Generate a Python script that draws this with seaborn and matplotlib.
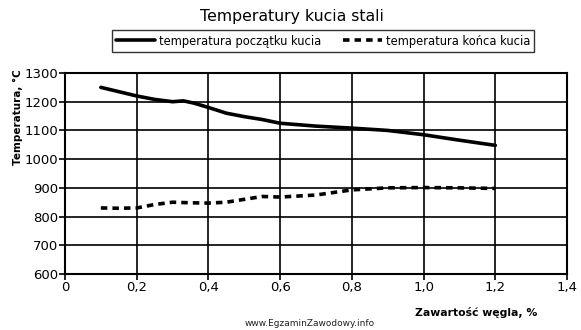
import matplotlib
matplotlib.use("Agg")
import matplotlib.pyplot as plt
import seaborn as sns
import pandas as pd

# Carbon content (%) and forging temperatures (°C)
carbon_start = [0.10, 0.15, 0.20, 0.25, 0.30, 0.33, 0.36, 0.40, 0.45, 0.50, 0.55, 0.60,
                0.70, 0.80, 0.90, 1.00, 1.10, 1.20]
temp_start = [1250, 1235, 1220, 1208, 1200, 1203, 1195, 1180, 1160, 1148, 1138, 1125,
              1115, 1108, 1100, 1085, 1066, 1048]

carbon_end = [0.10, 0.15, 0.20, 0.25, 0.30, 0.35, 0.40, 0.45, 0.50, 0.55, 0.60, 0.70,
              0.80, 0.90, 1.00, 1.10, 1.20]
temp_end = [830, 829, 830, 842, 850, 848, 847, 850, 860, 870, 868, 875,
            893, 900, 901, 900, 898]

series_names = ["temperatura początku kucia", "temperatura końca kucia"]
x_ticks = [0, 0.2, 0.4, 0.6, 0.8, 1.0, 1.2, 1.4]
x_tick_labels = ["0", "0,2", "0,4", "0,6", "0,8", "1,0", "1,2", "1,4"]
y_ticks = [600, 700, 800, 900, 1000, 1100, 1200, 1300]

df = pd.concat([
    pd.DataFrame({"c": carbon_start, "t": temp_start, "s": series_names[0]}),
    pd.DataFrame({"c": carbon_end, "t": temp_end, "s": series_names[1]}),
])

sns.set_style("white")
plt.rcParams["font.family"] = ["DejaVu Sans"]
plt.rcParams["text.color"] = "black"

DASH = (1.8, 1.4)

fig = plt.figure(figsize=(5.81, 3.30), dpi=100)
ax = fig.add_axes([65 / 581, 1 - 274 / 330, (567 - 65) / 581, (274 - 73) / 330])

sns.lineplot(data=df, x="c", y="t", hue="s", style="s",
             palette=["black", "black"],
             dashes={series_names[0]: "", series_names[1]: DASH},
             linewidth=2.6, ax=ax, legend=False, sort=False)
for ln in ax.lines:
    ln.set_dash_capstyle("butt")

ax.set_xlim(0, 1.4)
ax.set_ylim(600, 1300)
ax.set_xticks(x_ticks)
ax.set_xticklabels(x_tick_labels, fontsize=9.5)
ax.set_yticks(y_ticks)
ax.set_yticklabels([str(v) for v in y_ticks], fontsize=9.5)
ax.grid(True, color="black", linewidth=1.2)
ax.set_axisbelow(True)
for sp in ax.spines.values():
    sp.set_color("black")
    sp.set_linewidth(1.5)
ax.tick_params(axis="both", which="both", direction="out", length=4, width=1.2,
               color="black", labelcolor="black", pad=1, left=True, bottom=True)
ax.set_xlabel("")
ax.set_ylabel("")

fig.text(18 / 581, 1 - 117 / 330, "Temperatura, °C", rotation=90, fontsize=7.5,
         fontweight="bold", ha="center", va="center", color="black")
fig.text(476 / 581, 1 - 312 / 330, "Zawartość węgla, %", fontsize=7.8,
         fontweight="bold", ha="center", va="center", color="black")
fig.text(310 / 581, 1 - 323 / 330, "www.EgzaminZawodowy.info", fontsize=6.5,
         ha="center", va="center", color="#222222")
fig.text(292 / 581, 1 - 17 / 330, "Temperatury kucia stali", fontsize=11.3,
         ha="center", va="center", color="black")

handles = [plt.Line2D([], [], color="black", linewidth=2.6),
           plt.Line2D([], [], color="black", linewidth=2.6, dashes=DASH,
                      dash_capstyle="butt")]
leg = fig.legend(handles, series_names, loc="center",
                 bbox_to_anchor=(323 / 581, 1 - 41 / 330), ncol=2, fontsize=8.3,
                 frameon=True, fancybox=False, edgecolor="black", handlelength=3.4,
                 handletextpad=0.3, columnspacing=1.9, borderpad=0.35)
leg.get_frame().set_linewidth(1.0)
for t in leg.get_texts():
    t.set_color("black")

fig.savefig("out.png", dpi=100)
